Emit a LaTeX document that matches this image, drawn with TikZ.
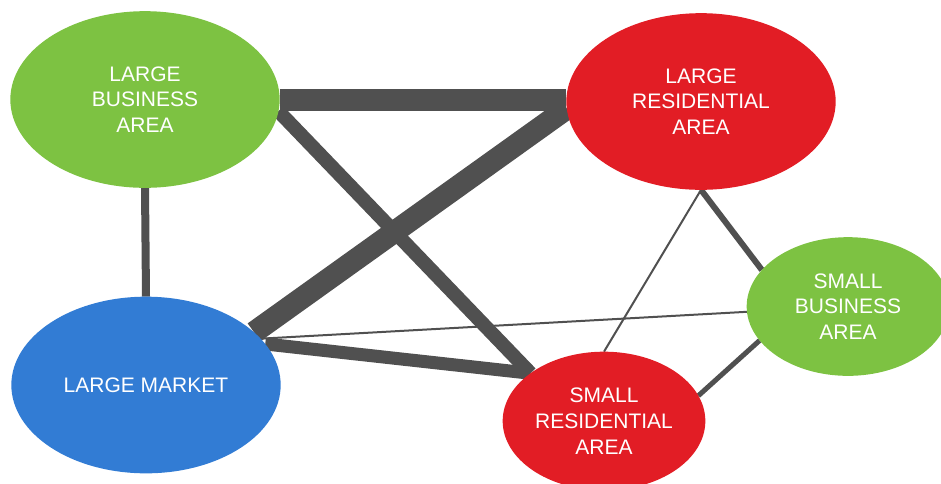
\documentclass[tikz,border=0pt]{standalone}
\usepackage{fontspec}
\setmainfont{Liberation Sans}
\usetikzlibrary{shapes.geometric,backgrounds}
\definecolor{bizgreen}{RGB}{125,194,66}
\definecolor{resred}{RGB}{226,29,37}
\definecolor{mktblue}{RGB}{50,124,212}
\definecolor{linkgray}{RGB}{80,80,80}
\begin{document}
\begin{tikzpicture}[x=0.75pt,y=-0.75pt,
  area/.style={ellipse,inner sep=0pt,outer sep=0pt,text=white,align=center,
    font=\fontsize{15.75}{19.35}\selectfont},
  bigarea/.style={area,minimum width=202pt,minimum height=132.5pt},
  smallarea/.style={area,minimum width=152pt,minimum height=104pt},
  link/.style={draw=linkgray,line cap=butt}]
\useasboundingbox (0,0) rectangle (941,483);
\node[bigarea,fill=bizgreen] (lba) at (145,99.5) {LARGE\\BUSINESS\\AREA};
\node[bigarea,fill=resred] (lra) at (701,101.5) {LARGE\\RESIDENTIAL\\AREA};
\node[bigarea,fill=mktblue] (lm) at (146,385) {LARGE MARKET};
\node[smallarea,fill=resred] (sra) at (604,421) {SMALL\\RESIDENTIAL\\AREA};
\node[smallarea,fill=bizgreen] (sba) at (848,306.5) {SMALL\\BUSINESS\\AREA};
\begin{scope}[on background layer]
  \draw[link,line width=16.5pt] (lba.east) -- (lba.east -| lra.west);
  \draw[link,line width=6pt] (lba.south) -- (lm.north);
  \draw[link,line width=10.5pt] (lba.355) -- (sra.147);
  \draw[link,line width=16.5pt] (lm.26) -- (lra.183);
  \draw[link,line width=9.75pt] (lm.19) -- (sra.147);
  \draw[link,line width=1.5pt] (lm.22) -- (sba.183);
  \draw[link,line width=1.5pt] (lra.south) -- (sra.north);
  \draw[link,line width=4.5pt] (lra.south) -- (sba.157);
  \draw[link,line width=3.75pt] (sra.15) -- (sba.201);
\end{scope}
\end{tikzpicture}
\end{document}
